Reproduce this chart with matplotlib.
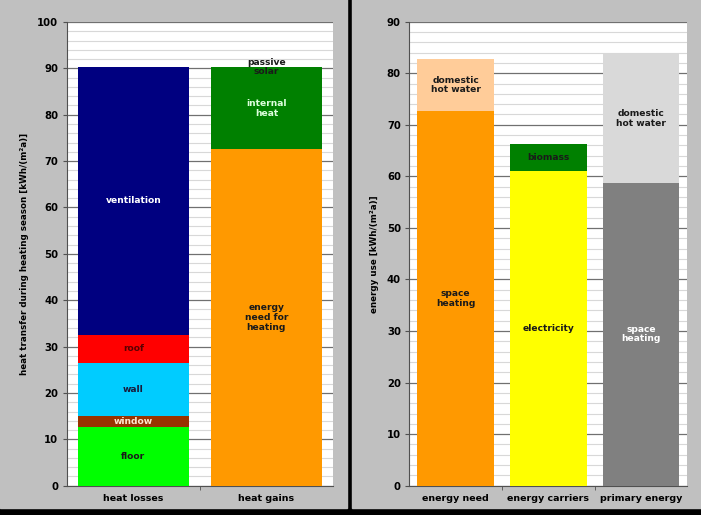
import numpy as np
import matplotlib
matplotlib.use("Agg")
import matplotlib.pyplot as plt
from matplotlib.patches import Rectangle
from matplotlib.ticker import MultipleLocator, FixedLocator

# ---- left chart: heat balance -------------------------------------------
balance_cats = ["heat losses", "heat gains"]
loss_names = ["floor", "window", "wall", "roof", "ventilation"]
loss_values = [12.7, 2.3, 11.5, 6.0, 57.8]
gain_names = ["energy\nneed for\nheating", "internal\nheat", "passive\nsolar"]
gain_values = [72.6, 17.4, 0.3]

# ---- right chart: energy use ---------------------------------------------
use_cats = ["energy need", "energy carriers", "primary energy"]
need_names = ["space\nheating", "domestic\nhot water"]
need_values = [72.7, 10.0]
carrier_names = ["electricity", "biomass"]
carrier_values = [61.1, 5.2]
primary_names = ["space\nheating", "domestic\nhot water"]
primary_values = [58.8, 24.9]

BG = "#C0C0C0"
FONT = dict(fontsize=6.6, fontweight="bold", family="DejaVu Sans")


def stack(ax, x, values, names, colors, textcolors, width=0.83, skip=()):
    bottom = 0.0
    for v, name, c, tc in zip(values, names, colors, textcolors):
        ax.bar(x, v, width, bottom=bottom, color=c, zorder=3, linewidth=0)
        if name not in skip:
            ax.text(x, bottom + v / 2, name, ha="center", va="center",
                    color=tc, linespacing=1.1, zorder=4, **FONT)
        bottom += v
    return bottom


def style(ax, ymax, ncat, ylabel):
    ax.set_facecolor("white")
    ax.set_xlim(-0.5, ncat - 0.5)
    ax.set_ylim(0, ymax)
    ax.yaxis.set_major_locator(MultipleLocator(10))
    ax.yaxis.set_minor_locator(MultipleLocator(2))
    ax.grid(axis="y", which="major", color="#707070", lw=0.9, zorder=1)
    ax.grid(axis="y", which="minor", color="#D8D8D8", lw=0.8, zorder=0)
    for s in ("top", "right"):
        ax.spines[s].set_visible(False)
    for s in ("left", "bottom"):
        ax.spines[s].set_color("#505050")
    ax.tick_params(axis="y", which="major", length=3, color="#505050", pad=3)
    ax.tick_params(axis="y", which="minor", length=0)
    ax.xaxis.set_minor_locator(FixedLocator(np.arange(0.5, ncat - 0.5)))
    ax.tick_params(axis="x", which="major", length=0, pad=6)
    ax.tick_params(axis="x", which="minor", length=3, color="#505050")
    ax.set_ylabel(ylabel, labelpad=6, **{**FONT, "fontsize": 6.3})
    for lab in ax.get_xticklabels():
        lab.set_fontweight("bold")
        lab.set_fontsize(6.8)
    for lab in ax.get_yticklabels():
        lab.set_fontweight("bold")
        lab.set_fontsize(7.3)


fig = plt.figure(figsize=(7.01, 5.15), dpi=100, facecolor="black")
fig.patches.append(Rectangle((0, 7 / 515), 347 / 701, 1, transform=fig.transFigure,
                             color=BG, zorder=-1))
fig.patches.append(Rectangle((352 / 701, 7 / 515), 349 / 701, 1, transform=fig.transFigure,
                             color=BG, zorder=-1))

# left
ax1 = fig.add_axes([66.7 / 701, 29.3 / 515, 266.3 / 701, 463.7 / 515])
stack(ax1, 0, loss_values, loss_names,
      ["#00FF00", "#993300", "#00CCFF", "#FF0000", "#000080"],
      ["#1A1A1A", "#FFE8D0", "#1A1A3A", "#5A0000", "white"])
top = stack(ax1, 1, gain_values, gain_names,
            ["#FF9900", "#008000", "#008000"],
            ["#1A1A1A", "#DDFFDD", "#1A1A1A"], skip=("passive\nsolar",))
ax1.text(1, top, gain_names[2], ha="center", va="center", color="#1A1A1A",
         linespacing=1.1, zorder=4, **FONT)
ax1.set_xticks([0, 1], balance_cats)
style(ax1, 100, 2, "heat transfer during heating season [kWh/(m²a)]")

# right
ax2 = fig.add_axes([409.3 / 701, 29.3 / 515, 278 / 701, 464 / 515])
stack(ax2, 0, need_values, need_names, ["#FF9900", "#FFCC99"],
      ["#1A1A1A", "#1A1A1A"])
stack(ax2, 1, carrier_values, carrier_names, ["#FFFF00", "#008000"],
      ["#1A1A1A", "#1A1A1A"])
stack(ax2, 2, primary_values, primary_names, ["#808080", "#D9D9D9"],
      ["white", "#1A1A1A"])
ax2.set_xticks([0, 1, 2], use_cats)
style(ax2, 90, 3, "energy use [kWh/(m²a)]")

fig.savefig("out.png", dpi=100, facecolor=fig.get_facecolor())
